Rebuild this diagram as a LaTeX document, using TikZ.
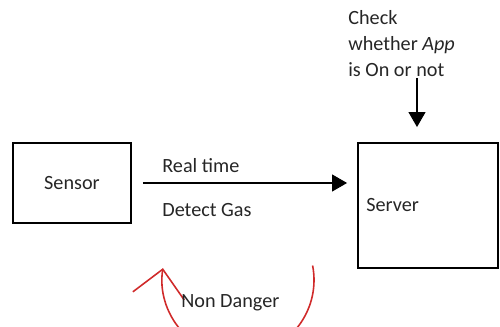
\documentclass[tikz,border=0pt]{standalone}
\usepackage{fontspec}
\setmainfont{Carlito}
\usetikzlibrary{arrows.meta,positioning}
\definecolor{loopred}{RGB}{208,42,42}

\begin{document}
\begin{tikzpicture}[x=0.02cm,y=0.02cm,
  box/.style={draw,line width=1.1pt,inner sep=0pt,text=black!85,
    font=\fontsize{11.5}{14.7}\selectfont},
  txt/.style={text=black!85,font=\fontsize{11.5}{14.7}\selectfont,
    inner sep=0pt,anchor=west},
  flow/.style={line width=0.6pt,-{Triangle[length=0.3cm,width=0.34cm]}},
  loopline/.style={draw=loopred,line width=0.9pt,
    -{Straight Barb[length=0.54cm,width=1.04cm]}}]
\useasboundingbox (0,0) rectangle (500,327);

% the two blocks
\node[box,minimum width=2.36cm,minimum height=1.6cm] (sensor) at (72,144) {Sensor};
\node[box,minimum width=2.8cm,minimum height=2.5cm] (server) at (428,121.5) {};
\node[txt,right=0.18cm of server.west] (servername) {Server};

% sensor to server
\draw[flow] ([xshift=0.22cm]sensor.east) -- ([xshift=-0.2cm]sensor.east -| server.west);
\node[txt] (realtime) at (162,161) {Real time};
\node[txt] (detectgas) at (162,117) {Detect Gas};

% app check from above
\node[txt,anchor=north west,align=left] (check) at (348,317)
  {Check\\whether \textit{App}\\is On or not};
\coordinate (checkout) at (417,249);
\draw[flow,shorten >=0.3cm] (checkout) -- (checkout |- server.north);

% loop back
\coordinate (loopstart) at (312.6,61.5);
\draw[loopline] (loopstart) arc[start angle=11,end angle=-189,radius=76];
\node[txt] (nondanger) at (181,24) {Non Danger};
\end{tikzpicture}
\end{document}
